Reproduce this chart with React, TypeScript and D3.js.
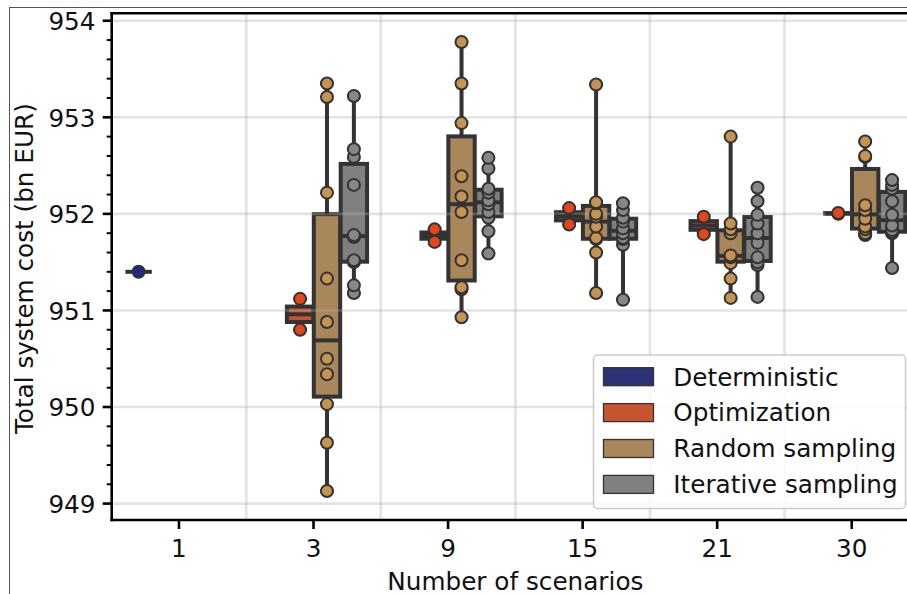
import React from "react";
import * as d3 from "d3";

const categories = ["1", "3", "9", "15", "21", "30"];
const methods = ["Deterministic", "Optimization", "Random sampling", "Iterative sampling"];

const deterministic = [[951.4], [], [], [], [], []];
const optimization = [[], [951.12, 950.8], [951.84, 951.71], [952.06, 951.89], [951.97, 951.79], [952.01, 952.0]];
const randomSampling = [
  [],
  [949.13, 949.63, 950.03, 950.34, 950.5, 950.88, 951.33, 952.22, 953.21, 953.35],
  [950.93, 951.22, 951.24, 951.52, 952.02, 952.18, 952.39, 952.94, 953.35, 953.78],
  [951.18, 951.6, 951.74, 951.75, 951.87, 951.97, 952.0, 952.11, 952.12, 953.34],
  [951.13, 951.33, 951.49, 951.55, 951.56, 951.57, 951.8, 951.84, 951.9, 952.8],
  [951.78, 951.8, 951.84, 951.87, 951.95, 952.04, 952.09, 952.59, 952.6, 952.75],
];
const iterativeSampling = [
  [],
  [951.18, 951.26, 951.5, 951.52, 951.76, 951.78, 952.3, 952.59, 952.67, 953.22],
  [951.59, 951.82, 951.96, 952.02, 952.1, 952.14, 952.22, 952.26, 952.47, 952.58],
  [951.11, 951.68, 951.74, 951.75, 951.8, 951.85, 951.92, 951.96, 952.04, 952.11],
  [951.14, 951.47, 951.5, 951.55, 951.7, 951.8, 951.9, 951.99, 952.13, 952.27],
  [951.44, 951.8, 951.81, 951.83, 951.88, 951.99, 952.13, 952.26, 952.3, 952.35],
];
const seriesData = [deterministic, optimization, randomSampling, iterativeSampling];

const boxColors = ["#2b3276", "#c8532f", "#a8875b", "#808080"];
const pointColors = ["#1f2a85", "#e2461a", "#c69350", "#878787"];
const yTicks = [949, 950, 951, 952, 953, 954];

const W = 907;
const H = 594;
const plotLeft = 111.7;
const plotRight = 919;
const plotTop = 13.3;
const plotBottom = 520;
const FONT = "DejaVu Sans, sans-serif";
const EDGE = "#333333";
const FS = 24.7;

export default function App() {
  const x = d3.scaleBand<string>().domain(categories).range([plotLeft, plotRight]).paddingInner(0).paddingOuter(0);
  const bw = x.bandwidth();
  const hue = d3.scaleBand<string>().domain(methods).range([-0.4 * bw, 0.4 * bw]);
  const boxW = hue.bandwidth() * 0.98;
  const y = d3.scaleLinear().domain([948.83, 954.077]).range([plotBottom, plotTop]);

  const minorTicks = d3.range(949, 954.01, 0.2).map((v) => +v.toFixed(1)).filter((v) => Math.abs(v - Math.round(v)) > 0.01);

  type Box = { cx: number; m: number; q1: number; med: number; q3: number; lo: number; hi: number; vals: number[] };
  const boxes: Box[] = [];
  seriesData.forEach((series, m) => {
    series.forEach((vals, ci) => {
      if (!vals.length) return;
      const s = [...vals].sort((a, b) => a - b);
      const cx = (x(categories[ci]) as number) + bw / 2 + (hue(methods[m]) as number) + hue.bandwidth() / 2;
      boxes.push({
        cx,
        m,
        q1: d3.quantileSorted(s, 0.25) as number,
        med: d3.quantileSorted(s, 0.5) as number,
        q3: d3.quantileSorted(s, 0.75) as number,
        lo: s[0],
        hi: s[s.length - 1],
        vals: s,
      });
    });
  });

  const gridV = categories.slice(0, -1).map((c) => (x(c) as number) + bw);

  const legendRows = methods.map((mname, i) => ({ mname, i, cy: 376.7 + i * 35.9 }));

  return (
    <svg width={W} height={H} style={{ position: "fixed", left: 0, top: 0, background: "#fff" }} fontFamily={FONT}>
      <rect x={0} y={0} width={W} height={H} fill="#fff" />
      {/* outer frame */}
      <line x1={9.5} y1={7} x2={9.5} y2={H} stroke="#555" strokeWidth={1} />
      <line x1={9} y1={7.5} x2={W} y2={7.5} stroke="#555" strokeWidth={1} />

      {/* box patches */}
      {boxes.map((b, i) => (
        <rect
          key={"bx" + i}
          x={b.cx - boxW / 2}
          y={y(b.q3)}
          width={boxW}
          height={Math.max(0, y(b.q1) - y(b.q3))}
          fill={boxColors[b.m]}
          stroke={EDGE}
          strokeWidth={4}
        />
      ))}

      {/* grid */}
      <g stroke="#b0b0b0" strokeOpacity={0.35} strokeWidth={2.6}>
        {yTicks.map((t) => (
          <line key={"gy" + t} x1={plotLeft} x2={plotRight} y1={y(t)} y2={y(t)} />
        ))}
        {gridV.map((gx, i) => (
          <line key={"gx" + i} x1={gx} x2={gx} y1={plotTop} y2={plotBottom} />
        ))}
      </g>

      {/* whiskers, caps, medians */}
      <g stroke={EDGE} strokeWidth={4}>
        {boxes.map((b, i) => (
          <g key={"wh" + i}>
            <line x1={b.cx} x2={b.cx} y1={y(b.q3)} y2={y(b.hi)} />
            <line x1={b.cx} x2={b.cx} y1={y(b.q1)} y2={y(b.lo)} />
            <line x1={b.cx - boxW / 4} x2={b.cx + boxW / 4} y1={y(b.hi)} y2={y(b.hi)} />
            <line x1={b.cx - boxW / 4} x2={b.cx + boxW / 4} y1={y(b.lo)} y2={y(b.lo)} />
            <line x1={b.cx - boxW / 2} x2={b.cx + boxW / 2} y1={y(b.med)} y2={y(b.med)} />
          </g>
        ))}
      </g>

      {/* points */}
      <g stroke={EDGE} strokeWidth={2}>
        {boxes.map((b, i) =>
          b.vals.map((v, j) => <circle key={"p" + i + "_" + j} cx={b.cx} cy={y(v)} r={6} fill={pointColors[b.m]} />)
        )}
      </g>

      {/* spines */}
      <g stroke="#000" strokeWidth={2.6} fill="none">
        <line x1={plotLeft} x2={plotLeft} y1={plotTop - 1.3} y2={plotBottom + 1.3} />
        <line x1={plotLeft - 1.3} x2={plotRight} y1={plotBottom} y2={plotBottom} />
        <line x1={plotLeft - 1.3} x2={plotRight} y1={plotTop} y2={plotTop} />
      </g>

      {/* ticks */}
      <g stroke="#000">
        {yTicks.map((t) => (
          <line key={"yt" + t} x1={plotLeft - 9} x2={plotLeft} y1={y(t)} y2={y(t)} strokeWidth={2.6} />
        ))}
        {minorTicks.map((t) => (
          <line key={"ym" + t} x1={plotLeft - 5} x2={plotLeft} y1={y(t)} y2={y(t)} strokeWidth={2} />
        ))}
        {categories.map((c) => (
          <line
            key={"xt" + c}
            x1={(x(c) as number) + bw / 2}
            x2={(x(c) as number) + bw / 2}
            y1={plotBottom}
            y2={plotBottom + 9}
            strokeWidth={2.6}
          />
        ))}
      </g>
      <g fontSize={FS} fill="#111">
        {yTicks.map((t) => (
          <text key={"yl" + t} x={95.5} y={y(t) + 9.2} textAnchor="end">
            {t}
          </text>
        ))}
        {categories.map((c) => (
          <text key={"xl" + c} x={(x(c) as number) + bw / 2} y={557} textAnchor="middle">
            {c}
          </text>
        ))}
        <text x={(plotLeft + plotRight) / 2} y={589.5} textAnchor="middle">
          Number of scenarios
        </text>
        <text transform={`translate(32.5, ${(plotTop + plotBottom) / 2 + 2}) rotate(-90)`} textAnchor="middle">
          Total system cost (bn EUR)
        </text>
      </g>

      {/* legend */}
      <rect x={593.5} y={355} width={312} height={153.5} rx={4} fill="#fff" fillOpacity={0.85} stroke="#cccccc" strokeWidth={1.5} />
      {legendRows.map((r) => (
        <g key={"lg" + r.i}>
          <rect x={603.5} y={r.cy - 9} width={50} height={18} fill={boxColors[r.i]} stroke={EDGE} strokeWidth={1.3} />
          <text x={673.3} y={r.cy + 8.8} fontSize={FS} fill="#111">
            {r.mname}
          </text>
        </g>
      ))}
    </svg>
  );
}
